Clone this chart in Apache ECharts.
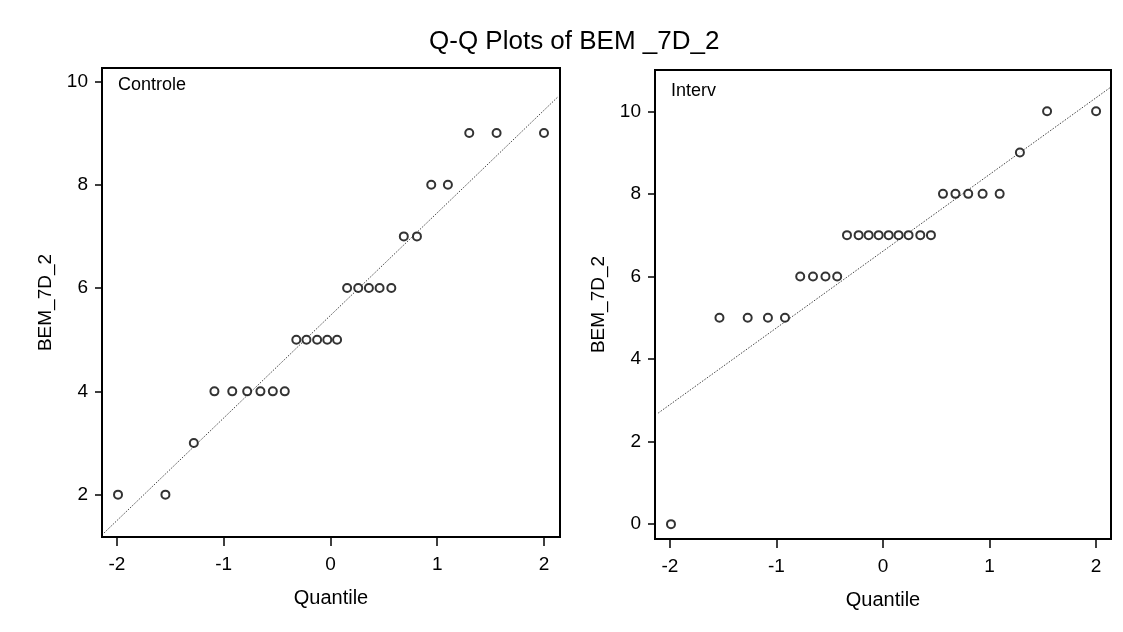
<!DOCTYPE html>
<html>
<head>
<meta charset="utf-8">
<script src="https://cdn.jsdelivr.net/npm/echarts@6/dist/echarts.min.js"></script>
<style>
html,body{margin:0;padding:0;background:#fff;}
#main{width:1123px;height:632px;}
</style>
</head>
<body>
<div id="main"></div>
<script>
// ---- data ----
const titleText = 'Q-Q Plots of BEM _7D_2';
const panelNames = ['Controle', 'Interv'];
const yName = 'BEM_7D_2';
const xName = 'Quantile';

const ctrlQuantile = [-1.99,-1.546,-1.28,-1.087,-0.92,-0.78,-0.656,-0.54,-0.428,-0.32,-0.225,-0.125,-0.03,0.062,0.156,0.26,0.36,0.46,0.57,0.687,0.81,0.944,1.10,1.30,1.556,2.0];
const ctrlValue    = [2,2,3,4,4,4,4,4,4,5,5,5,5,5,6,6,6,6,6,7,7,8,8,9,9,9];
const ctrlLineX = [-2.12, 2.13];
const ctrlLineY = [1.26, 9.7];

const intQuantile = [-1.99,-1.535,-1.27,-1.08,-0.92,-0.777,-0.657,-0.54,-0.43,-0.338,-0.229,-0.135,-0.041,0.053,0.146,0.24,0.35,0.45,0.563,0.68,0.80,0.935,1.095,1.285,1.54,2.0];
const intValue    = [0,5,5,5,5,6,6,6,6,7,7,7,7,7,7,7,7,7,8,8,8,8,8,9,10,10];
const intLineX = [-2.11, 2.13];
const intLineY = [2.69, 10.57];

const xTicks = [-2,-1,0,1,2];
const ctrlYTicks = [2,4,6,8,10];
const intYTicks = [0,2,4,6,8,10];

// ---- build chart ----
const FONT = "'Liberation Sans', Arial, sans-serif";
const zip = (a, b) => a.map((v, i) => [v, b[i]]);

function xAxisCfg(gridIndex, min, max) {
  return {
    type: 'value', gridIndex, min, max,
    name: xName, nameLocation: 'middle', nameGap: 51,
    nameTextStyle: {fontFamily: FONT, fontSize: 20, color: '#000'},
    splitLine: {show: false},
    axisLine: {show: true, onZero: false, lineStyle: {color: '#000', width: 2}},
    axisTick: {show: true, inside: false, length: 9, customValues: xTicks, lineStyle: {color: '#000', width: 1.5}},
    axisLabel: {customValues: xTicks, margin: 18, fontFamily: FONT, fontSize: 19, color: '#000'}
  };
}
function yAxisCfg(gridIndex, min, max, ticks) {
  return {
    type: 'value', gridIndex, min, max,
    name: yName, nameLocation: 'middle', nameGap: 47, nameRotate: 90,
    nameTextStyle: {fontFamily: FONT, fontSize: 19, color: '#000'},
    splitLine: {show: false},
    axisLine: {show: true, onZero: false, lineStyle: {color: '#000', width: 2}},
    axisTick: {show: true, inside: false, length: 7, customValues: ticks, lineStyle: {color: '#000', width: 1.5}},
    axisLabel: {customValues: ticks, margin: 14, fontFamily: FONT, fontSize: 19, color: '#000'}
  };
}
function scatterCfg(idx, data) {
  return {
    type: 'scatter', xAxisIndex: idx, yAxisIndex: idx, data,
    symbol: 'emptyCircle', symbolSize: 8,
    itemStyle: {color: '#000', borderColor: '#000', borderWidth: 1.6},
    silent: true, z: 3
  };
}
function lineCfg(idx, data) {
  return {
    type: 'line', xAxisIndex: idx, yAxisIndex: idx, data,
    showSymbol: false, symbol: 'none',
    lineStyle: {color: '#444', width: 1, type: [1.5, 1.5]},
    silent: true, z: 2
  };
}

const chart = echarts.init(document.getElementById('main'), null, {renderer: 'canvas'});
chart.setOption({
  animation: false,
  backgroundColor: '#fff',
  title: {
    text: titleText, left: 424, top: 24,
    textStyle: {fontFamily: FONT, fontSize: 26, fontWeight: 'normal', color: '#000'}
  },
  grid: [
    {left: 102, top: 68, width: 458, height: 469, show: true, borderColor: '#000', borderWidth: 2, backgroundColor: 'transparent'},
    {left: 655, top: 70, width: 456, height: 469, show: true, borderColor: '#000', borderWidth: 2, backgroundColor: 'transparent'}
  ],
  xAxis: [xAxisCfg(0, -2.14, 2.15), xAxisCfg(1, -2.14, 2.14)],
  yAxis: [yAxisCfg(0, 1.18, 10.26, ctrlYTicks), yAxisCfg(1, -0.36, 11.0, intYTicks)],
  graphic: [
    {type: 'text', left: 118, top: 76, style: {text: panelNames[0], font: '18px ' + FONT, fill: '#000'}},
    {type: 'text', left: 671, top: 82, style: {text: panelNames[1], font: '18px ' + FONT, fill: '#000'}}
  ],
  series: [
    lineCfg(0, zip(ctrlLineX, ctrlLineY)),
    scatterCfg(0, zip(ctrlQuantile, ctrlValue)),
    lineCfg(1, zip(intLineX, intLineY)),
    scatterCfg(1, zip(intQuantile, intValue))
  ]
});
</script>
</body>
</html>
